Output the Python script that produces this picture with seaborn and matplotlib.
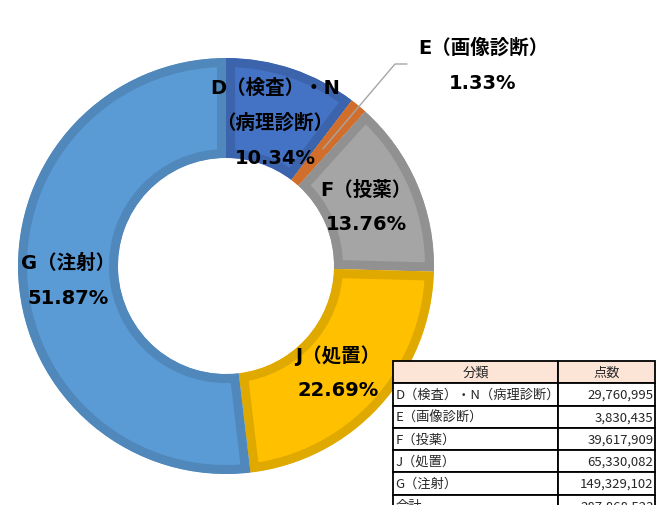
import numpy as np
import matplotlib
matplotlib.use("Agg")
import matplotlib.pyplot as plt
from matplotlib.colors import to_rgb
import seaborn as sns

# data
categories = ["D（検査）・N（病理診断）", "E（画像診断）", "F（投薬）", "J（処置）", "G（注射）"]
chart_labels = [["D（検査）・N", "（病理診断）"], ["E（画像診断）"], ["F（投薬）"], ["J（処置）"], ["G（注射）"]]
points = [29760995, 3830435, 39617909, 65330082, 149329102]
hex_colors = ["#4472C4", "#ED7D31", "#A5A5A5", "#FFC000", "#5B9BD5"]

sns.set_theme(style="white")
plt.rcParams["font.family"] = ["DejaVu Sans", "Noto Sans CJK JP"]

palette = sns.color_palette(hex_colors)
total = sum(points)
shares = [p / total * 100 for p in points]

fig = plt.figure(figsize=(6.6, 5.06), dpi=100)
ax = fig.add_axes([0, 0, 1, 1])

# layout in pixel units (y measured from bottom)
cx, cy, R, ring = 226, 239, 208, 100
wedges, _ = ax.pie(
    points,
    colors=palette,
    radius=R,
    center=(cx, cy),
    startangle=90,
    counterclock=False,
    wedgeprops=dict(width=ring, linewidth=0),
)
for w, c in zip(wedges, palette):
    w.set_edgecolor(np.array(to_rgb(c)) * 0.88)
    w.set_linewidth(13)
    w.set_clip_path(w)
    w.set_clip_on(True)

ax.set_xlim(0, 660)
ax.set_ylim(0, 506)
ax.set_aspect("equal")
ax.axis("off")

# label centres (x, y of first line) in pixels from top-left
label_pos = [(275, 88), (483, 48), (366, 190), (338, 356), (68, 263)]
for lines, sh, (lx, ly) in zip(chart_labels, shares, label_pos):
    for i, s in enumerate(lines + [f"{sh:.2f}%"]):
        ax.text(lx, 506 - ly - 35 * i, s, ha="center", va="center",
                fontsize=14, fontweight="bold", color="black")

# leader line for E
w_e = wedges[1]
mid = np.deg2rad((w_e.theta1 + w_e.theta2) / 2)
sx, sy = cx + 152 * np.cos(mid), cy + 152 * np.sin(mid)
ax.plot([sx, 395, 407], [sy, 506 - 65, 506 - 65], color="#A6A6A6", lw=1, zorder=3)

# table in lower right
cell_text = [[c, f"{p:,}"] for c, p in zip(categories, points)]
cell_text.append(["合計", f"{total:,}"])
tbl = ax.table(
    cellText=cell_text,
    colLabels=["分類", "点数"],
    colWidths=[165 / 262, 97 / 262],
    bbox=[393 / 660, (506 - 518) / 506, 262 / 660, 156 / 506],
    zorder=5,
)
tbl.auto_set_font_size(False)
for (r, c), cell in tbl.get_celld().items():
    cell.set_linewidth(1.3)
    cell.set_edgecolor("black")
    cell.PAD = 0.015
    cell.get_text().set_fontsize(9.5)
    cell.get_text().set_fontfamily(["Noto Sans CJK JP", "DejaVu Sans"])
    if r == 0:
        cell.set_facecolor("#FCE4D6")
        cell.get_text().set_ha("center")
        cell._loc = "center"
    else:
        cell.set_facecolor("white")
        cell._loc = "left" if c == 0 else "right"
        cell.get_text().set_ha(cell._loc)

fig.savefig("out.png", dpi=100)
